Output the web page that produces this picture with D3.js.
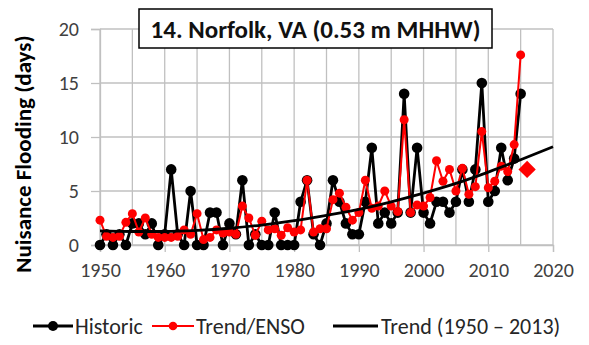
<!DOCTYPE html>
<html><head><meta charset="utf-8">
<script src="https://cdn.jsdelivr.net/npm/d3@7"></script>
<style>
html,body{margin:0;padding:0;background:#fff;}
svg{display:block;font-family:Carlito,Calibri,Lato,"Liberation Sans",sans-serif;}
</style></head>
<body><svg id="c" width="589" height="345"></svg>
<script>
const years = d3.range(1950, 2016);
const historic = [0,1,0,1,0,2,2,1,2,0, 1,7,1,0,5,0,0,3,3,0, 2,1,6,0,1,0,0,3,0,0, 0,4,6,1,0,2,6,4,2,1, 1,4,9,2,3,2,3,14,3,9, 3,2,4,4,3,4,7,4,7,15, 4,5,9,6,8,14];
const trendEnso = [2.3,0.8,0.7,0.8,2.1,2.9,1.2,2.5,1.0,0.7, 0.7,0.7,0.8,1.4,1.0,2.9,0.5,0.7,1.4,1.1, 1.2,1.0,3.6,2.5,0.9,2.2,1.4,1.5,0.9,1.6, 1.2,1.4,6.0,1.2,1.5,1.5,4.2,4.8,3.5,2.3, 3.0,6.0,3.4,3.6,5.0,3.6,3.1,11.6,3.0,3.7, 3.6,4.4,7.8,5.9,7.0,5.0,7.1,4.7,5.4,10.5, 5.3,5.9,7.3,6.8,9.3,17.6];
const projYear = [2016];
const projValue = [7];
const trendYears = [1950,1955,1960,1965,1970,1975,1980,1985,1990,1995,2000,2005,2010,2015,2020];
const trendValues = [1.3,1.25,1.25,1.35,1.55,1.85,2.25,2.75,3.3,4.0,4.8,5.7,6.75,7.9,9.1];
const xTicks = [1950,1960,1970,1980,1990,2000,2010,2020];
const xGrid = d3.range(1950, 2021, 5);
const yTicks = [0,5,10,15,20];
const title = "14. Norfolk, VA (0.53 m MHHW)";
const yLabel = "Nuisance Flooding (days)";
const legendLabels = ["Historic", "Trend/ENSO", "Trend (1950 \u2013 2013)"];

const svg = d3.select("#c");
const x = d3.scaleLinear().domain([1950, 2020]).range([100, 553]);
const y = d3.scaleLinear().domain([0, 20]).range([245, 29]);
const grid = "#c0c0c0", txt = "#404040";

svg.append("g").selectAll("line").data(xGrid).join("line")
  .attr("x1", d => x(d)).attr("x2", d => x(d)).attr("y1", y(0)).attr("y2", y(20))
  .attr("stroke", grid).attr("stroke-width", 1.3);
svg.append("g").selectAll("line").data(yTicks).join("line")
  .attr("x1", x(1950)).attr("x2", x(2020)).attr("y1", d => y(d)).attr("y2", d => y(d))
  .attr("stroke", grid).attr("stroke-width", 1.3);

const xAxis = svg.append("g").attr("transform", `translate(0,${y(0)})`)
  .call(d3.axisBottom(x).tickValues(xTicks).tickFormat(d3.format("d")).tickSize(7).tickPadding(11));
const yAxis = svg.append("g").attr("transform", `translate(${x(1950)},0)`)
  .call(d3.axisLeft(y).tickValues(yTicks).tickSize(9).tickPadding(12));
[xAxis, yAxis].forEach(a => {
  a.select(".domain").attr("stroke", grid).attr("stroke-width", 1.3);
  a.selectAll(".tick line").attr("stroke", grid).attr("stroke-width", 1.3);
  a.selectAll(".tick text").attr("fill", txt).attr("font-size", 20)
    .attr("font-family", "Carlito,Calibri,Lato,sans-serif");
});

svg.append("text").attr("transform", `translate(23,154) rotate(-90)`)
  .attr("dy", "0.35em").attr("text-anchor", "middle").attr("font-weight", "bold").attr("font-size", 23)
  .attr("fill", "#000").text(yLabel);

const line = d3.line().x((d, i) => x(years[i])).y(d => y(d));
svg.append("path").datum(historic).attr("d", line).attr("fill", "none")
  .attr("stroke", "#000").attr("stroke-width", 2.8).attr("stroke-linejoin", "round");
svg.append("g").selectAll("circle").data(historic).join("circle")
  .attr("cx", (d, i) => x(years[i])).attr("cy", d => y(d)).attr("r", 5.3).attr("fill", "#000");

svg.append("path").datum(trendEnso).attr("d", line).attr("fill", "none")
  .attr("stroke", "#ff0000").attr("stroke-width", 2).attr("stroke-linejoin", "round");
svg.append("g").selectAll("circle").data(trendEnso).join("circle")
  .attr("cx", (d, i) => x(years[i])).attr("cy", d => y(d)).attr("r", 4.5).attr("fill", "#ff0000");

svg.append("g").selectAll("path").data(projValue).join("path")
  .attr("d", d3.symbol(d3.symbolSquare, 150))
  .attr("transform", (d, i) => `translate(${x(projYear[i])},${y(d)}) rotate(45)`)
  .attr("fill", "#ff0000");

const tline = d3.line().x((d, i) => x(trendYears[i])).y(d => y(d)).curve(d3.curveMonotoneX);
svg.append("path").datum(trendValues).attr("d", tline).attr("fill", "none")
  .attr("stroke", "#000").attr("stroke-width", 2.8);

svg.append("rect").attr("x", 139).attr("y", 9).attr("width", 353).attr("height", 39)
  .attr("fill", "#fff").attr("stroke", "#000").attr("stroke-width", 1.5);
svg.append("text").attr("x", 315.5).attr("y", 29).attr("dy", "0.35em")
  .attr("text-anchor", "middle").attr("font-weight", "bold").attr("font-size", 25)
  .attr("fill", "#111").text(title);

const lg = svg.append("g");
const ly = 326;
const items = [
  {x1: 33, x2: 73, color: "#000", w: 2.8, dot: true, r: 5, tx: 75},
  {x1: 152, x2: 194, color: "#ff0000", w: 2, dot: true, r: 4.3, tx: 196},
  {x1: 333, x2: 378, color: "#000", w: 2.8, dot: false, tx: 381}
];
items.forEach((it, i) => {
  lg.append("line").attr("x1", it.x1).attr("x2", it.x2).attr("y1", ly).attr("y2", ly)
    .attr("stroke", it.color).attr("stroke-width", it.w);
  if (it.dot) lg.append("circle").attr("cx", (it.x1 + it.x2) / 2).attr("cy", ly).attr("r", it.r).attr("fill", it.color);
  lg.append("text").attr("x", it.tx).attr("y", ly).attr("dy", "0.35em")
    .attr("font-size", 22).attr("fill", "#262626").text(legendLabels[i]);
});
</script></body></html>
